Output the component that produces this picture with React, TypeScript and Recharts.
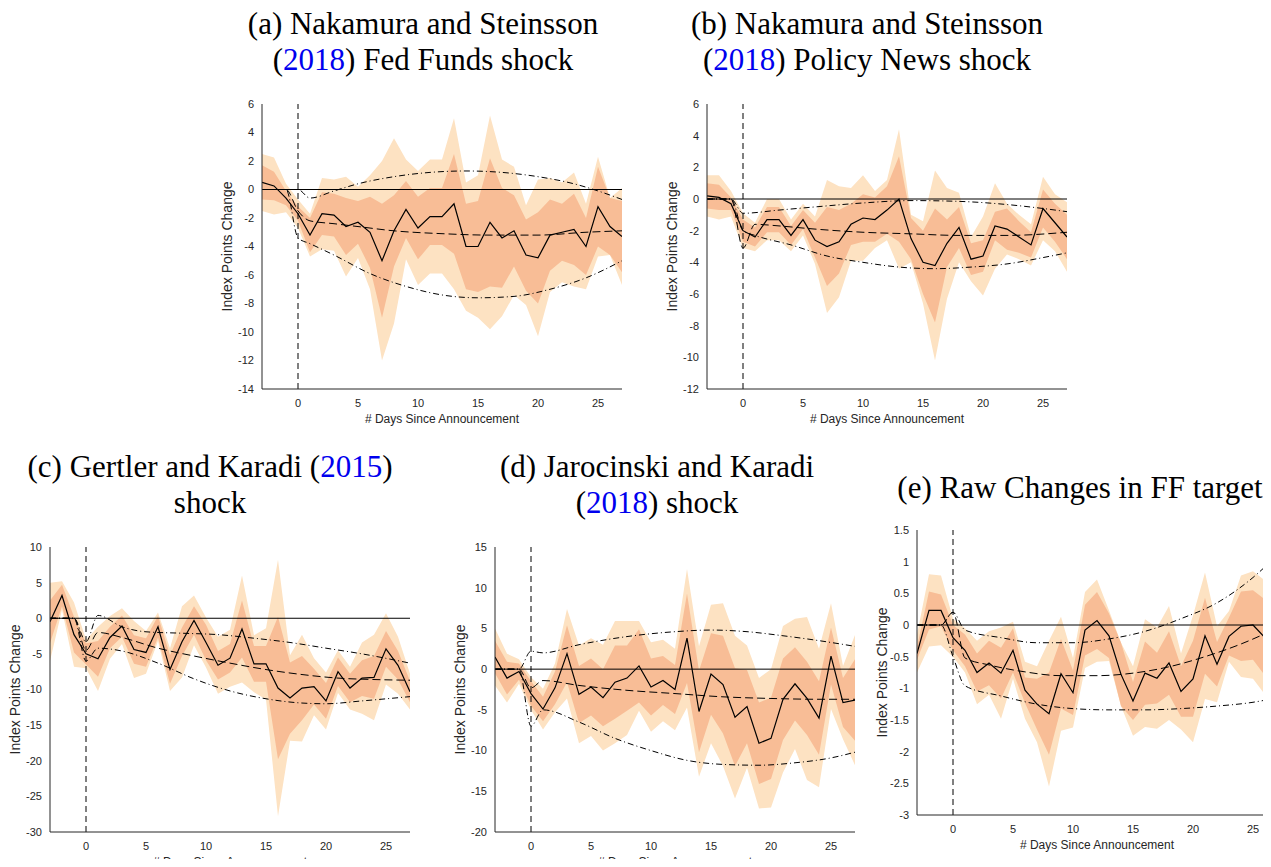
import * as React from "react"
import { ComposedChart, Area, Line, XAxis, YAxis, ReferenceLine } from "recharts"

const days = [-3, -2, -1, 0, 1, 2, 3, 4, 5, 6, 7, 8, 9, 10, 11, 12, 13, 14, 15, 16, 17, 18, 19, 20, 21, 22, 23, 24, 25, 26, 27]
const xTicks = [0, 5, 10, 15, 20, 25]

// panel (a)
const aLine = [0.5, 0.25, -0.6, -1.7, -3.2, -1.7, -1.8, -2.6, -2.3, -3.0, -5.0, -2.9, -1.4, -2.7, -1.9, -1.9, -1.0, -4.0, -4.0, -2.3, -3.4, -2.9, -4.6, -4.8, -3.2, -3.0, -2.8, -4.0, -1.2, -2.6, -3.3]
const aInner = [1.2, 1, 0.5, 0.5, 1.2, 1.5, 1.5, 2, 1.5, 2.5, 4, 2.5, 2, 2.2, 2, 2, 3.5, 3, 3.2, 4.5, 3.5, 2.5, 2.5, 3.2, 2.5, 2, 2.5, 2, 2.8, 2, 2.5]
const aOuter = [2, 2, 1, 1, 1.5, 2.5, 2.5, 3.5, 2.5, 4, 7, 6.5, 3.5, 4, 4, 4, 6, 4.5, 5, 7.5, 5.5, 4.5, 3.5, 5.5, 4, 3.5, 4, 3, 3.5, 2, 3.4]
const aDash: Record<number, number> = { [-3]: 0, [-2]: 0, [-1]: 0, 0: -1.5, 1: -2.2, 3: -2.4, 5: -2.6, 8: -2.9, 12: -3.1, 16: -3.2, 20: -3.2, 24: -3.0, 27: -2.9 }
const aUp: Record<number, number> = { [-3]: 0, [-2]: 0, [-1]: 0, 0: 0, 1: -0.6, 3: -0.1, 5: 0.4, 8: 0.9, 11: 1.2, 14: 1.3, 17: 1.2, 20: 0.9, 23: 0.4, 25: -0.1, 27: -0.7 }
const aLow: Record<number, number> = { [-3]: 0, [-2]: 0, [-1]: 0, 0: -3.4, 1: -3.8, 3: -4.6, 6: -5.9, 9: -6.8, 12: -7.4, 15: -7.6, 18: -7.5, 21: -7.0, 24: -6.2, 27: -5.0 }

// panel (b)
const bLine = [0.2, 0.1, -0.3, -2.0, -2.4, -1.3, -1.3, -2.3, -1.3, -2.6, -3.0, -2.7, -1.6, -1.2, -1.3, -0.7, 0.0, -2.5, -4.0, -4.2, -2.8, -1.8, -3.8, -3.6, -1.7, -1.9, -2.4, -2.9, -0.6, -1.5, -2.4]
const bInner = [0.8, 0.8, 0.4, 0.7, 0.6, 0.8, 0.8, 0.6, 0.6, 1.1, 2.5, 2, 1.3, 1.5, 1.4, 1.5, 2.7, 1.3, 2, 3.6, 1.5, 1.3, 1, 1, 0.9, 1.3, 1, 0.8, 1.2, 1.2, 1.4]
const bOuter = [1.3, 1.4, 0.8, 1.1, 0.9, 1.3, 1.3, 1, 1, 1.5, 4.2, 3.5, 2.3, 2.7, 1.8, 1.9, 4.4, 1.5, 2.6, 6, 3.5, 2.2, 1.4, 2.5, 2.7, 1.6, 1.4, 1.3, 2, 1.8, 2.2]
const bDash: Record<number, number> = { [-3]: 0, [-2]: 0, [-1]: 0, 0: -3.1, 1: -1.6, 3: -1.7, 6: -1.9, 10: -2.1, 14: -2.2, 18: -2.3, 22: -2.3, 27: -2.1 }
const bUp: Record<number, number> = { [-3]: 0, [-2]: 0, [-1]: 0, 0: -0.9, 3: -0.7, 6: -0.5, 10: -0.25, 14: -0.1, 18: -0.15, 22: -0.35, 25: -0.6, 27: -0.8 }
const bLow: Record<number, number> = { [-3]: 0, [-2]: 0, [-1]: 0, 0: -2.0, 1: -2.3, 4: -2.9, 7: -3.6, 10: -4.0, 13: -4.3, 16: -4.4, 19: -4.3, 22: -4.1, 25: -3.7, 27: -3.4 }

// panel (c)
const cLine = [-0.5, 3.2, -2.3, -5.0, -5.7, -2.7, -1.1, -4.4, -4.8, -1.2, -7.2, -3.3, -0.3, -3.4, -6.6, -5.6, -1.5, -6.4, -6.4, -9.8, -11.2, -9.8, -9.6, -11.6, -7.5, -9.8, -8.4, -8.3, -4.3, -6.6, -10.3]
const cInner = [3, 1.5, 2.5, 1.5, 2.5, 1.5, 1.5, 2, 2, 1.5, 2, 2, 2, 2.5, 2, 2, 4, 2.5, 2.5, 10, 5, 4.5, 2.5, 2.5, 2, 2, 2.5, 3, 2.5, 2, 1.5]
const cOuter = [5.5, 2, 4.5, 2, 4.5, 3, 2.5, 4, 3, 2, 3, 5, 3.5, 3.5, 4, 4, 7.5, 4, 5, 18, 6, 7.5, 4, 4, 3, 3, 5, 6, 5, 4, 2.5]
const cDash: Record<number, number> = { [-3]: 0, [-2]: 0, [-1]: 0, 0: -4.5, 1: -2, 3: -2.7, 6: -4.2, 9: -5.3, 12: -6.3, 15: -7.2, 18: -7.9, 21: -8.4, 24: -8.6, 27: -8.7 }
const cUp: Record<number, number> = { [-3]: 0, [-2]: 0, [-1]: 0, 0: -3.3, 1: 0.4, 3: -1.2, 5: -1.9, 8: -2.1, 11: -2.3, 14: -2.8, 17: -3.4, 20: -4.2, 23: -5.0, 27: -6.3 }
const cLow: Record<number, number> = { [-3]: 0, [-2]: 0, [-1]: 0, 0: -6.0, 1: -4.2, 3: -4.6, 6: -6.3, 9: -8.5, 12: -10.2, 15: -11.3, 18: -11.9, 20: -12.0, 23: -11.6, 27: -11.0 }

// panel (d)
const dLine = [1.5, -1.1, -0.3, -3.0, -4.9, -2.3, 1.9, -3.1, -2.2, -3.5, -1.6, -1.1, 0.4, -2.2, -1.4, -2.5, 3.8, -5.2, -0.6, -1.9, -5.9, -4.6, -9.1, -8.5, -3.7, -1.8, -3.6, -6.0, 1.6, -4.1, -3.8]
const dInner = [2, 2, 1, 1.5, 1.5, 2, 3.5, 3.5, 3.5, 3.5, 4.5, 4, 4.5, 3.5, 3, 3, 5.5, 5, 5, 6, 6, 4.5, 5, 5, 5, 4.5, 4.5, 4.5, 3.5, 3, 5]
const dOuter = [3.5, 3, 1.5, 2, 2.5, 3, 5.5, 6, 6, 6.5, 7.5, 7, 5.5, 5.5, 5, 5, 8.5, 8, 8.5, 10, 10, 7.5, 8, 8.5, 9, 8, 10, 8.5, 6.5, 4.5, 8]
const dDash: Record<number, number> = { [-3]: 0, [-2]: 0, [-1]: 0, 0: -2.3, 1: -1.4, 4: -2.0, 8: -2.6, 12: -3.0, 16: -3.4, 20: -3.6, 24: -3.7, 27: -3.7 }
const dUp: Record<number, number> = { [-3]: 0, [-2]: 0, [-1]: 0, 0: 2.2, 1: 2.0, 4: 3.0, 8: 4.0, 12: 4.6, 15: 4.8, 18: 4.6, 21: 4.1, 24: 3.5, 27: 2.8 }
const dLow: Record<number, number> = { [-3]: 0, [-2]: 0, [-1]: 0, 0: -7.0, 1: -5.0, 4: -6.5, 7: -8.5, 10: -10.0, 13: -11.2, 16: -11.7, 19: -11.8, 22: -11.5, 25: -10.9, 27: -10.2 }

// panel (e)
const eLine = [-0.45, 0.23, 0.23, -0.2, -0.4, -0.75, -0.6, -0.76, -0.4, -1.03, -1.25, -1.4, -0.77, -1.07, -0.08, 0.07, -0.17, -0.78, -1.2, -0.76, -0.84, -0.6, -1.05, -0.85, -0.17, -0.62, -0.18, -0.02, 0.0, -0.2, -0.3]
const eInner = [0.1, 0.3, 0.25, 0.2, 0.25, 0.3, 0.35, 0.4, 0.35, 0.2, 0.4, 0.65, 0.55, 0.35, 0.4, 0.45, 0.35, 0.5, 0.3, 0.5, 0.4, 0.5, 0.4, 0.6, 0.6, 0.35, 0.3, 0.55, 0.55, 0.6, 0.5]
const eOuter = [0.3, 0.57, 0.55, 0.3, 0.35, 0.5, 0.5, 0.72, 0.45, 0.45, 0.6, 1.15, 0.9, 0.55, 0.6, 0.65, 0.4, 0.5, 0.55, 0.85, 0.8, 0.9, 0.6, 1.0, 1.0, 0.6, 0.4, 0.8, 0.85, 0.9, 0.8]
const eDash: Record<number, number> = { [-3]: 0, [-2]: 0, [-1]: 0, 0: 0.2, 1: -0.52, 3: -0.63, 6: -0.74, 9: -0.8, 12: -0.8, 15: -0.76, 18: -0.66, 21: -0.5, 24: -0.3, 27: -0.05 }
const eUp: Record<number, number> = { [-3]: 0, [-2]: 0, [-1]: 0, 0: 0.2, 1: -0.08, 4: -0.2, 7: -0.28, 10: -0.28, 13: -0.22, 16: -0.1, 19: 0.1, 22: 0.35, 25: 0.75, 27: 1.1 }
const eLow: Record<number, number> = { [-3]: 0, [-2]: 0, [-1]: 0, 0: -0.5, 1: -0.96, 4: -1.12, 7: -1.25, 10: -1.32, 13: -1.34, 16: -1.34, 19: -1.32, 22: -1.28, 25: -1.22, 27: -1.15 }

const OUTER = "#fde2c2"
const INNER = "#f8bd96"
const AXIS = "#262626"
const YW = 42
const ML = 14

function rows(line: number[], inner: number[], outer: number[], dash: Record<number, number>, up: Record<number, number>, low: Record<number, number>) {
  return days.map((d, i) => ({
    x: d,
    line: line[i],
    inner: [line[i] - inner[i], line[i] + inner[i]],
    outer: [line[i] - outer[i], line[i] + outer[i]],
    dash: dash[d] ?? null,
    up: up[d] ?? null,
    low: low[d] ?? null,
  }))
}

function Panel({ left, top, data, domain, ticks }: { left: number; top: number; data: any[]; domain: [number, number]; ticks: number[] }) {
  const plotW = 360
  const plotH = 285
  const tickStyle = { fontSize: 11, fill: AXIS, fontFamily: "Liberation Sans, Arial" }
  return (
    <div style={{ position: "absolute", left: left - YW - ML, top: top - 6 }}>
      <ComposedChart width={ML + YW + plotW + 2} height={plotH + 48} data={data} margin={{ top: 6, right: 2, bottom: 8, left: ML }}>
        <XAxis dataKey="x" type="number" domain={[-3, 27]} ticks={xTicks} allowDataOverflow tick={tickStyle} tickLine={false} stroke={AXIS} height={34} tickMargin={4}
          label={{ value: "# Days Since Announcement", position: "insideBottom", offset: 0, style: { fontSize: 12, fill: AXIS, fontFamily: "Liberation Sans, Arial" } }} />
        <YAxis type="number" domain={domain} ticks={ticks} allowDataOverflow tick={tickStyle} tickLine={false} stroke={AXIS} width={YW} tickMargin={2}
          label={{ value: "Index Points Change", angle: -90, position: "insideLeft", offset: 7, style: { textAnchor: "middle", fontSize: 14, fill: AXIS, fontFamily: "Liberation Sans, Arial" } }} />
        <Area dataKey="outer" type="linear" fill={OUTER} fillOpacity={1} stroke="none" isAnimationActive={false} />
        <Area dataKey="inner" type="linear" fill={INNER} fillOpacity={1} stroke="none" isAnimationActive={false} />
        <ReferenceLine y={0} stroke="#000" strokeWidth={1} />
        <ReferenceLine x={0} stroke="#000" strokeWidth={1} strokeDasharray="6 4" />
        <Line dataKey="dash" type="monotone" connectNulls stroke="#000" strokeWidth={1} strokeDasharray="8 4" dot={false} isAnimationActive={false} />
        <Line dataKey="up" type="monotone" connectNulls stroke="#000" strokeWidth={1} strokeDasharray="6 3 1 3" dot={false} isAnimationActive={false} />
        <Line dataKey="low" type="monotone" connectNulls stroke="#000" strokeWidth={1} strokeDasharray="6 3 1 3" dot={false} isAnimationActive={false} />
        <Line dataKey="line" type="linear" stroke="#000" strokeWidth={1.2} dot={false} isAnimationActive={false} />
      </ComposedChart>
    </div>
  )
}

const titleStyle: React.CSSProperties = {
  position: "absolute", textAlign: "center", fontFamily: "Liberation Serif, serif", fontSize: 31, lineHeight: "36px", color: "#000", width: 460,
}
const Year = ({ y }: { y: string }) => <span style={{ color: "#0000ee" }}>{y}</span>

export default function App() {
  return (
    <div style={{ position: "relative", margin: -8, width: 1271, height: 867, overflow: "hidden", background: "#fff" }}>
      <div style={{ ...titleStyle, left: 193, top: 6 }}>(a) Nakamura and Steinsson<br />(<Year y="2018" />) Fed Funds shock</div>
      <div style={{ ...titleStyle, left: 637, top: 6 }}>(b) Nakamura and Steinsson<br />(<Year y="2018" />) Policy News shock</div>
      <div style={{ ...titleStyle, left: -20, top: 449 }}>(c) Gertler and Karadi (<Year y="2015" />)<br />shock</div>
      <div style={{ ...titleStyle, left: 427, top: 449 }}>(d) Jarocinski and Karadi<br />(<Year y="2018" />) shock</div>
      <div style={{ ...titleStyle, left: 850, top: 470 }}>(e) Raw Changes in FF target</div>
      <Panel left={262} top={104} data={rows(aLine, aInner, aOuter, aDash, aUp, aLow)} domain={[-14, 6]} ticks={[-14, -12, -10, -8, -6, -4, -2, 0, 2, 4, 6]} />
      <Panel left={707} top={104} data={rows(bLine, bInner, bOuter, bDash, bUp, bLow)} domain={[-12, 6]} ticks={[-12, -10, -8, -6, -4, -2, 0, 2, 4, 6]} />
      <Panel left={50} top={547} data={rows(cLine, cInner, cOuter, cDash, cUp, cLow)} domain={[-30, 10]} ticks={[-30, -25, -20, -15, -10, -5, 0, 5, 10]} />
      <Panel left={495} top={547} data={rows(dLine, dInner, dOuter, dDash, dUp, dLow)} domain={[-20, 15]} ticks={[-20, -15, -10, -5, 0, 5, 10, 15]} />
      <Panel left={917} top={530} data={rows(eLine, eInner, eOuter, eDash, eUp, eLow)} domain={[-3, 1.5]} ticks={[-3, -2.5, -2, -1.5, -1, -0.5, 0, 0.5, 1, 1.5]} />
    </div>
  )
}
